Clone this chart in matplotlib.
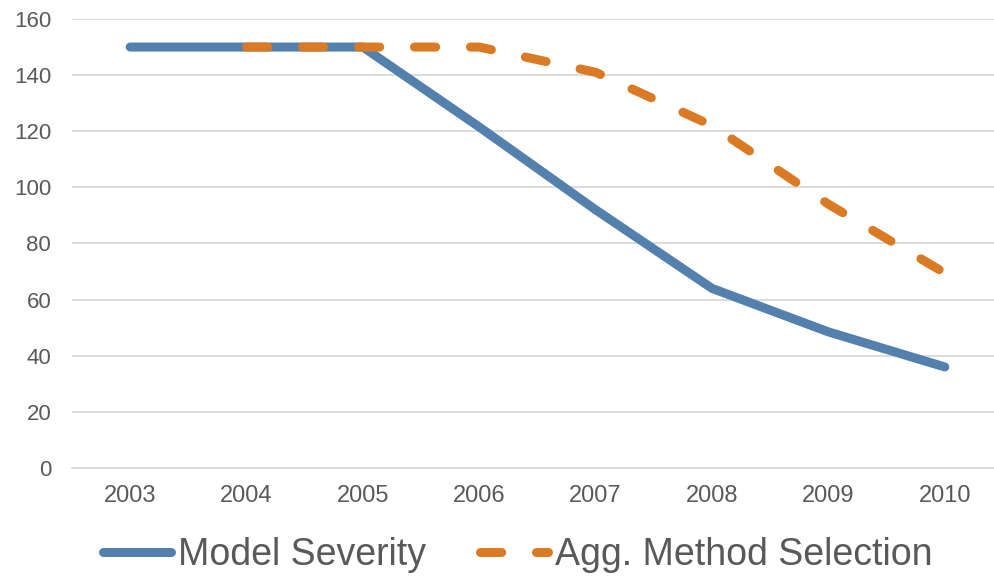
import numpy as np
import matplotlib.pyplot as plt

years = ["2003", "2004", "2005", "2006", "2007", "2008", "2009", "2010"]
model_severity = [150, 150, 150, 121.5, 92, 64, 48.5, 36]
agg_method = [np.nan, 150, 150, 150, 141, 122, 94, 69.5]

BLUE = "#5380AC"
ORANGE = "#DA7A24"
TEXT = "#595959"
GRID = "#D9D9D9"

plt.rcParams["font.family"] = ["Liberation Sans", "DejaVu Sans"]

fig = plt.figure(figsize=(9.94, 5.78), dpi=100)
ax = fig.add_axes([72 / 994, 1 - 468 / 578, (1003 - 72) / 994, (468 - 19) / 578])

x = np.arange(len(years))
ax.plot(x, model_severity, color=BLUE, lw=6.5, solid_capstyle="round",
        solid_joinstyle="round", label="Model Severity", zorder=3)
ax.plot(x, agg_method, color=ORANGE, lw=6.5, dashes=(2.35, 3.85),
        dash_capstyle="round", dash_joinstyle="round",
        label="Agg. Method Selection", zorder=4)

ax.set_xlim(-0.5, len(years) - 0.5)
ax.set_ylim(0, 160)
ax.set_yticks(np.arange(0, 161, 20))
ax.set_xticks(x)
ax.set_xticklabels(years)
ax.tick_params(axis="both", length=0, colors=TEXT)
ax.tick_params(axis="y", pad=15, labelsize=16)
ax.tick_params(axis="x", pad=12, labelsize=17)
ax.grid(axis="y", color=GRID, lw=1.3)
ax.set_axisbelow(True)
for side in ["top", "right", "left"]:
    ax.spines[side].set_visible(False)
ax.spines["bottom"].set_color(GRID)
ax.spines["bottom"].set_linewidth(1.3)

fig.legend(loc="center", bbox_to_anchor=(518 / 994, 1 - 555 / 578), ncol=2,
           frameon=False, fontsize=27, handlelength=1.8, handletextpad=0.2,
           columnspacing=1.45, labelcolor=TEXT)

fig.savefig("out.png", dpi=100)
